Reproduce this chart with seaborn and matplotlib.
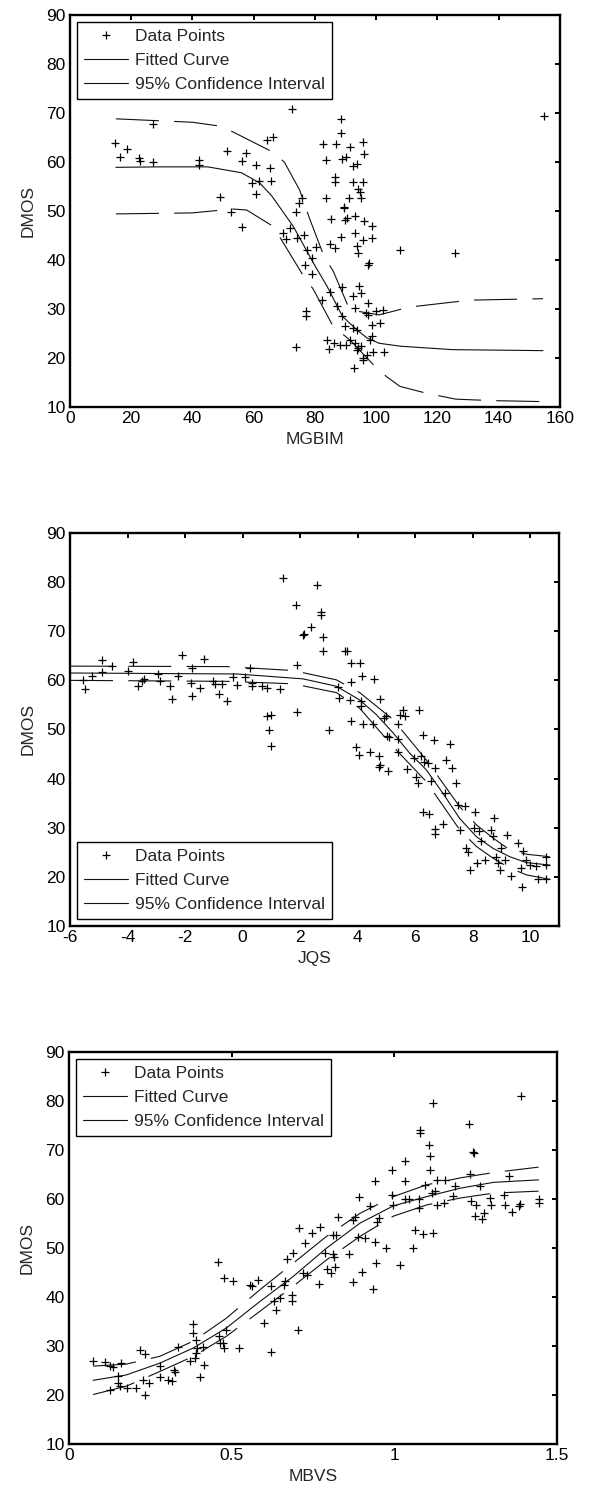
#!/usr/bin/env python3
"""Three DMOS scatter panels with fitted curve and 95% confidence band."""

import matplotlib
matplotlib.use("Agg")
import matplotlib.pyplot as plt
from matplotlib.lines import Line2D
import seaborn as sns

# ---- panel 1: MGBIM ----
mgbim_x = [14.7, 16.3, 18.5, 22.5, 22.8, 27.0, 27.0, 42.1, 42.1, 49.0,
           51.2, 52.5, 56.1, 56.1, 57.5, 60.7, 59.3, 60.9, 61.8, 65.5,
           65.6, 64.2, 66.4, 72.4, 69.7, 70.5, 71.8, 73.8, 74.7, 75.9,
           74.3, 76.5, 77.3, 76.7, 79.1, 78.9, 80.3, 77.0, 77.0, 73.8,
           82.4, 84.9, 88.7, 87.1, 89.0, 89.8, 92.5, 93.1, 92.5, 93.6,
           94.5, 95.2, 97.4, 96.7, 97.4, 98.5, 98.0, 98.5, 100.1, 102.1,
           101.2, 102.6, 83.8, 84.6, 86.3, 88.2, 90.1, 91.4, 93.1, 94.2,
           95.2, 93.6, 95.8, 96.9, 99.1, 92.7, 95.8, 88.5, 88.5, 82.7,
           86.9, 91.4, 95.8, 96.0, 83.6, 88.7, 90.1, 92.3, 93.6, 86.5,
           86.5, 92.3, 95.6, 94.0, 94.7, 95.2, 83.5, 91.2, 89.6, 89.5,
           85.2, 89.8, 90.6, 93.1, 96.0, 98.5, 88.5, 93.1, 95.8, 98.5,
           84.9, 86.5, 93.6, 94.2, 97.7, 97.4, 107.8, 125.9, 154.9]
mgbim_dmos = [63.8, 61.1, 62.7, 60.8, 60.2, 67.8, 60.0, 60.4, 59.3, 52.8,
              62.3, 49.8, 60.1, 46.7, 61.9, 59.3, 55.7, 53.5, 56.2, 58.7,
              56.1, 64.4, 65.1, 70.8, 45.5, 44.2, 46.5, 49.8, 51.6, 52.6,
              44.4, 45.1, 42.1, 39.0, 40.4, 37.1, 42.7, 29.5, 28.6, 22.2,
              31.9, 33.4, 34.5, 30.7, 28.6, 26.6, 32.6, 30.2, 26.1, 25.8,
              34.6, 33.2, 31.2, 29.2, 28.8, 26.8, 23.7, 24.4, 29.5, 29.7,
              27.1, 21.3, 23.7, 21.8, 23.0, 22.7, 22.7, 23.7, 23.0, 22.0,
              22.4, 21.7, 19.6, 20.7, 21.3, 18.0, 20.0, 68.8, 66.0, 63.6,
              63.6, 63.1, 64.0, 61.7, 60.3, 60.6, 61.1, 59.2, 59.6, 57.0,
              56.0, 56.0, 56.0, 54.4, 53.8, 52.6, 52.6, 52.6, 50.9, 50.7,
              48.4, 48.2, 48.6, 48.9, 47.9, 47.0, 44.7, 45.6, 44.1, 44.5,
              43.3, 42.4, 42.9, 41.4, 39.4, 39.0, 42.1, 41.4, 69.4]
mgbim_fit_x = [15, 30, 45, 56, 62, 66, 73, 79.5, 84, 89, 93.6, 97, 101, 108, 125, 154.5]
mgbim_fit_y = [58.9, 59.0, 59.0, 57.8, 55.7, 53.0, 46.8, 39.4, 34.6, 28.5, 25.8, 24.1,
               23.0, 22.4, 21.7, 21.5]
mgbim_up_x = [15, 40, 48, 53, 66, 70, 75, 78, 83, 86, 91.4, 101, 111, 130.6, 154.5]
mgbim_up_y = [68.8, 68.1, 67.4, 66.2, 62.1, 60.0, 54.3, 48.9, 40.7, 37.7, 29.8, 28.8,
              30.4, 31.8, 32.1]
mgbim_lo_x = [15, 40, 53, 57.7, 66, 69, 76, 79.5, 86, 91.4, 99.6, 103.4, 107.8, 116.5,
              126, 138, 154.5]
mgbim_lo_y = [49.4, 49.6, 50.4, 50.2, 47.0, 44.2, 37.0, 34.0, 26.4, 23.7, 18.3, 16.2,
              14.2, 12.8, 11.6, 11.3, 11.1]

# ---- panel 2: JQS ----
jqs_x = [-5.56, -5.48, -5.25, -4.87, -4.87, -4.55, -3.97, -3.82, -3.62, -3.48,
         -3.42, -2.93, -2.87, -2.53, -2.47, -2.24, -2.12, -1.80, -1.76, -1.76,
         -1.49, -1.34, -1.02, -0.97, -0.81, -0.73, -0.53, -0.33, -0.18, 0.08,
         0.27, 0.31, 0.34, 0.66, 0.85, 1.31, 0.85, 0.97, 0.91, 0.97,
         1.41, 1.87, 1.89, 1.89, 2.10, 2.14, 2.39, 2.59, 2.72, 2.74,
         2.80, 2.80, 3.00, 3.32, 3.35, 3.57, 3.63, 3.72, 3.78, 3.78,
         3.76, 4.07, 4.15, 4.13, 4.13, 4.19, 4.53, 4.57, 4.78, 3.95,
         4.05, 4.42, 4.73, 4.79, 4.74, 5.05, 4.90, 4.99, 5.03, 5.10,
         5.40, 5.40, 5.40, 5.46, 5.57, 5.65, 5.71, 5.94, 6.01, 6.09,
         6.13, 6.21, 6.25, 6.31, 6.44, 6.53, 6.64, 6.67, 6.27, 6.48,
         6.70, 6.70, 6.96, 7.02, 7.05, 7.22, 7.28, 7.43, 7.49, 7.55,
         7.74, 7.77, 7.83, 7.89, 8.06, 8.03, 8.16, 8.22, 8.30, 8.41,
         8.64, 8.73, 8.70, 8.79, 8.87, 8.93, 8.99, 9.10, 9.20, 9.34,
         9.57, 9.66, 9.72, 9.74, 9.86, 9.97, 10.18, 10.26, 10.55, 10.55,
         10.55]
jqs_dmos = [60.1, 58.2, 60.8, 64.2, 61.7, 63.0, 62.0, 63.7, 58.8, 59.8,
            60.3, 61.3, 59.9, 58.8, 56.2, 60.8, 65.1, 59.4, 62.5, 56.9,
            58.4, 64.3, 59.8, 59.2, 57.2, 59.3, 55.8, 60.6, 59.0, 60.7,
            62.5, 59.4, 58.8, 58.9, 58.4, 58.2, 52.8, 53.0, 49.9, 46.7,
            80.8, 75.3, 63.2, 53.5, 69.3, 69.4, 70.8, 79.5, 74.0, 73.4,
            68.8, 65.9, 49.9, 58.6, 56.4, 65.9, 65.9, 56.0, 59.6, 63.6,
            51.8, 63.6, 60.8, 55.8, 54.8, 51.2, 51.2, 60.3, 56.2, 46.5,
            44.8, 45.5, 44.5, 42.8, 42.3, 41.6, 52.3, 52.8, 48.6, 48.4,
            48.0, 45.5, 51.1, 53.0, 54.0, 52.8, 41.9, 44.2, 40.4, 39.2,
            53.9, 44.5, 48.9, 43.3, 43.1, 39.5, 47.9, 42.1, 33.3, 32.7,
            29.7, 28.7, 30.8, 37.0, 43.8, 47.0, 42.1, 39.1, 34.7, 29.6,
            34.4, 25.8, 25.1, 21.4, 33.3, 29.9, 22.9, 29.4, 27.2, 23.4,
            29.6, 31.9, 28.3, 24.1, 22.8, 21.4, 25.8, 23.4, 28.5, 20.2,
            26.8, 21.7, 18.0, 25.3, 23.4, 22.4, 22.2, 19.5, 24.1, 22.4,
            19.5]
jqs_fit_x = [-6, -0.2, 2.1, 3.26, 4.07, 4.65, 5.23, 5.8, 6.38, 6.96, 7.54, 8.12, 8.7,
             9.28, 9.86, 10.67]
jqs_fit_y = [61.5, 61.3, 60.3, 58.8, 56.0, 53.0, 49.3, 45.2, 41.8, 37.0, 31.9, 28.2,
             25.8, 24.1, 22.9, 22.4]
jqs_band_x = [-6, -0.56, 1.75, 3.26, 4.07, 5.23, 6.38, 7.54, 8.12, 8.7, 9.28, 9.86, 10.67]
jqs_up_y = [62.9, 62.8, 62.0, 60.1, 57.5, 52.0, 43.8, 34.3, 30.6, 27.9, 25.5, 24.6, 24.1]
jqs_lo_y = [60.0, 59.8, 59.3, 57.5, 54.3, 46.5, 39.4, 29.6, 26.2, 23.8, 21.8, 20.4, 19.5]

# ---- panel 3: MBVS ----
mbvs_x = [0.074, 0.110, 0.125, 0.135, 0.161, 0.127, 0.151, 0.151, 0.156, 0.177,
          0.205, 0.218, 0.233, 0.226, 0.233, 0.246, 0.279, 0.279, 0.305, 0.315,
          0.323, 0.325, 0.336, 0.371, 0.380, 0.380, 0.387, 0.390, 0.392, 0.390,
          0.404, 0.412, 0.416, 0.459, 0.461, 0.463, 0.474, 0.476, 0.477, 0.484,
          0.503, 0.522, 0.556, 0.561, 0.582, 0.600, 0.620, 0.621, 0.631, 0.636,
          0.648, 0.661, 0.664, 0.669, 0.684, 0.684, 0.689, 0.703, 0.708, 0.725,
          0.720, 0.730, 0.746, 0.767, 0.772, 0.787, 0.792, 0.804, 0.810, 0.813,
          0.810, 0.821, 0.817, 0.828, 0.862, 0.872, 0.879, 0.874, 0.887, 0.892,
          0.900, 0.910, 0.925, 0.933, 0.941, 0.941, 0.943, 0.946, 0.954, 0.975,
          0.992, 0.992, 0.997, 1.016, 1.033, 1.033, 1.033, 1.044, 1.057, 1.064,
          1.075, 1.075, 1.088, 1.079, 1.079, 1.095, 1.105, 1.108, 1.108, 1.118,
          1.115, 1.120, 1.125, 1.130, 1.130, 1.151, 1.156, 1.180, 1.187, 1.228,
          1.233, 1.236, 1.243, 1.245, 1.248, 1.252, 1.262, 1.269, 1.276, 1.295,
          1.297, 1.338, 1.339, 1.351, 1.361, 1.382, 1.387, 1.390, 1.443, 1.443]
mbvs_dmos = [26.9, 26.7, 25.9, 25.7, 26.5, 21.1, 23.8, 22.4, 21.9, 21.4,
             21.4, 29.1, 28.4, 23.1, 20.1, 22.4, 25.9, 23.6, 23.1, 22.8,
             25.2, 24.6, 29.9, 26.9, 34.4, 32.7, 27.6, 31.3, 29.6, 28.6,
             23.7, 29.9, 26.1, 47.1, 32.0, 30.7, 30.6, 43.9, 29.5, 33.3,
             43.2, 29.6, 42.5, 42.3, 43.4, 34.7, 42.3, 28.7, 39.1, 37.4,
             39.8, 42.5, 43.3, 47.8, 40.5, 39.1, 49.0, 33.3, 54.1, 51.0,
             44.9, 44.4, 53.1, 42.7, 54.2, 49.0, 45.7, 44.9, 48.8, 48.2,
             52.7, 52.7, 46.1, 56.3, 48.8, 55.8, 56.3, 43.0, 52.2, 60.4,
             45.1, 52.0, 58.5, 41.6, 63.6, 51.2, 46.9, 55.4, 56.1, 50.0,
             66.0, 60.9, 58.8, 46.6, 67.8, 63.6, 59.9, 60.1, 50.0, 53.7,
             59.9, 58.2, 52.9, 74.1, 73.5, 62.9, 71.1, 68.8, 66.0, 79.6,
             61.2, 53.1, 61.6, 63.9, 58.8, 59.2, 63.9, 60.7, 62.6, 75.4,
             65.1, 59.5, 69.5, 69.3, 56.5, 58.8, 62.6, 56.0, 57.1, 60.2,
             58.8, 60.9, 58.7, 64.6, 57.3, 58.5, 59.0, 81.0, 59.9, 59.2]
mbvs_curve_x = [0.074, 0.176, 0.279, 0.382, 0.484, 0.587, 0.689, 0.792, 0.895, 0.997,
                1.100, 1.202, 1.305, 1.443]
mbvs_fit_y = [23.0, 24.1, 26.5, 29.6, 33.7, 39.1, 44.2, 50.0, 55.1, 58.6, 60.5, 62.2, 63.4, 63.9]
mbvs_up_y = [25.9, 26.3, 27.9, 31.0, 35.7, 41.5, 46.9, 52.4, 57.1, 60.5, 62.9, 64.3, 65.4, 66.5]
mbvs_lo_y = [20.1, 21.8, 24.8, 27.9, 32.0, 37.1, 42.2, 47.6, 52.4, 56.5, 58.8, 60.2, 61.2, 61.6]

LABELS = ["Data Points", "Fitted Curve", "95% Confidence Interval"]

FS = 12.5
LW = 0.8
CI_STYLE = (0, (31 / LW, 11 / LW))


def draw_panel(ax, px, py, fx, fy, ux, uy, lx, ly, xlabel, xlim, xticks, xticklabels, loc):
    sns.scatterplot(x=px, y=py, marker="+", color="black", s=34, linewidth=0.9, ax=ax,
                    legend=False, zorder=3)
    sns.lineplot(x=fx, y=fy, color="#111111", lw=LW, estimator=None, sort=False, ax=ax)
    sns.lineplot(x=ux, y=uy, color="#111111", lw=LW, estimator=None, sort=False, ax=ax,
                 linestyle=CI_STYLE)
    sns.lineplot(x=lx, y=ly, color="#111111", lw=LW, estimator=None, sort=False, ax=ax,
                 linestyle=CI_STYLE)

    ax.set_xlim(*xlim)
    ax.set_ylim(10, 90)
    ax.set_xticks(xticks)
    ax.set_xticklabels(xticklabels)
    ax.set_yticks(range(10, 91, 10))
    ax.set_xlabel(xlabel, fontsize=FS, labelpad=4)
    ax.set_ylabel("DMOS", fontsize=FS, labelpad=8)
    ax.tick_params(direction="in", length=3.6, width=1.4, top=True, right=True,
                   labelsize=FS, pad=3, colors="black")
    for sp in ax.spines.values():
        sp.set_visible(True)
        sp.set_linewidth(1.7)
        sp.set_color("black")

    handles = [
        Line2D([], [], marker="+", ls="none", color="black", markersize=5.8, mew=0.9),
        Line2D([], [], color="#111111", lw=LW),
        Line2D([], [], color="#111111", lw=LW),
    ]
    leg = ax.legend(handles, LABELS, loc=loc, fontsize=FS, handlelength=2.5,
                    handletextpad=0.45, borderpad=0.4, labelspacing=0.5,
                    borderaxespad=0.42, fancybox=False, framealpha=1, frameon=True)
    leg.get_frame().set_edgecolor("black")
    leg.get_frame().set_linewidth(1.0)


def main():
    sns.set_theme(style="white")
    plt.rcParams["font.family"] = ["Liberation Sans", "DejaVu Sans"]

    fig = plt.figure(figsize=(5.93, 14.93), dpi=100)
    ax1 = fig.add_axes([0.118, 0.7274, 0.826, 0.2626])
    ax2 = fig.add_axes([0.118, 0.3798, 0.825, 0.2632])
    ax3 = fig.add_axes([0.1164, 0.0328, 0.823, 0.2626])

    draw_panel(ax1, mgbim_x, mgbim_dmos, mgbim_fit_x, mgbim_fit_y,
               mgbim_up_x, mgbim_up_y, mgbim_lo_x, mgbim_lo_y,
               "MGBIM", (0, 160), range(0, 161, 20), [str(v) for v in range(0, 161, 20)],
               "upper left")
    draw_panel(ax2, jqs_x, jqs_dmos, jqs_fit_x, jqs_fit_y,
               jqs_band_x, jqs_up_y, jqs_band_x, jqs_lo_y,
               "JQS", (-6, 11), range(-6, 11, 2), [str(v) for v in range(-6, 11, 2)],
               "lower left")
    draw_panel(ax3, mbvs_x, mbvs_dmos, mbvs_curve_x, mbvs_fit_y,
               mbvs_curve_x, mbvs_up_y, mbvs_curve_x, mbvs_lo_y,
               "MBVS", (0, 1.5), [0, 0.5, 1, 1.5], ["0", "0.5", "1", "1.5"],
               "upper left")

    fig.savefig("out.png", dpi=100)


if __name__ == "__main__":
    main()
